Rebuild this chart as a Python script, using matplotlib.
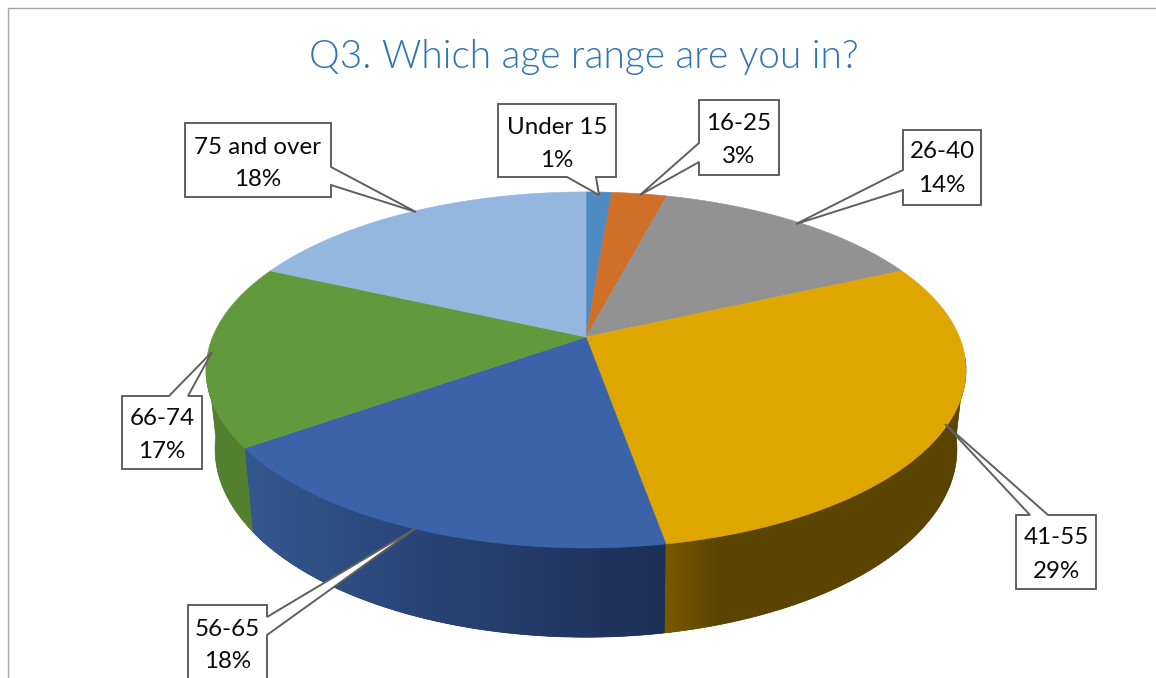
import numpy as np
import matplotlib
matplotlib.use("Agg")
import matplotlib.pyplot as plt
from matplotlib.colors import LinearSegmentedColormap, Normalize
from matplotlib.patches import Polygon

# Data
categorias = ["Under 15", "16-25", "26-40", "41-55", "56-65", "66-74", "75 and over"]
valores = [1.3, 2.8, 14.1, 29.0, 18.0, 16.6, 18.2]
rotulos = ["1%", "3%", "14%", "29%", "18%", "17%", "18%"]
titulo = "Q3. Which age range are you in?"

cores_topo = ["#4D8BC2", "#D06F27", "#929292", "#E0A600", "#3A63AA", "#62993D", "#95B6DE"]
# side shading, by x pixel: slice -> (x stops, colours)
cores_lado = {
    3: ([665, 715, 970], ["#7A5A00", "#5C4500", "#5A4400"]),
    4: ([245, 420, 665], ["#34588F", "#2A4478", "#1C2F55"]),
    5: ([200, 260], ["#54812F", "#54812F"]),
}

# box x0, x1, y0, y1, side of pointer, pointer base a, b, tip x, y
caixas = [
    (498, 616, 104, 177, "bottom", 567, 596, 599, 195),
    (699, 779, 100, 175, "left", 143, 162, 640, 195),
    (903, 981, 130, 205, "left", 170, 190, 796, 224),
    (1016, 1096, 515, 589, "top", 1030, 1048, 945, 424),
    (188, 267, 605, 690, "right", 617, 635, 416, 528),
    (122, 202, 396, 469, "top", 169, 188, 212, 352),
    (185, 331, 123, 197, "right", 167, 185, 416, 212),
]
centros_y = [141.5, 137.5, 166, 552, 643, 432.5, 161]

plt.rcParams["font.family"] = ["Lato", "DejaVu Sans"]
fig = plt.figure(figsize=(11.56, 6.78), dpi=100)
ax = fig.add_axes([0, 0, 1, 1])

# frame of the slide
ax.plot([7.5, 7.5, 1156], [678, 7.5, 7.5], color="#A6A6A6", lw=1.0, zorder=1)

ax.text(584, 57, titulo, ha="center", va="center", color="#2E75B6",
        fontsize=28, fontweight=300)


# perspective: circle -> ellipse, the pie centre is not the ellipse centre
def projeta(theta, topo=True):
    u, v = np.sin(theta), np.cos(theta)
    w = 1 + 0.185 * v
    if topo:
        return 586 + 373.4 * u / w, 337 - 171.9 * v / w
    return 586 + 364.5 * u / w, 414.5 - 181.5 * v / w


limites = np.concatenate([[0], np.cumsum(valores)]) / np.sum(valores) * 2 * np.pi
# the wall only shows below the widest points of the rim
vis_ini, vis_fim = np.radians(97), np.radians(263)

# side first, the top goes over it
for i in cores_lado:
    ts = np.linspace(max(limites[i], vis_ini), min(limites[i + 1], vis_fim), 220)
    xt, yt = projeta(ts, True)
    xb, yb = projeta(ts, False)
    contorno = np.column_stack([np.concatenate([xt, xb[::-1]]), np.concatenate([yt, yb[::-1]])])
    xs, cs = cores_lado[i]
    ax.fill(contorno[:, 0], contorno[:, 1], color=cs[-1], lw=0.5, zorder=2)
    pos = [(x - xs[0]) / (xs[-1] - xs[0]) for x in xs]
    cmap = LinearSegmentedColormap.from_list("lado", list(zip(pos, cs)))
    grad = np.linspace(0, 1, 512).reshape(1, -1)
    im = ax.imshow(grad, extent=[xs[0], xs[-1], 678, 0], aspect="auto", cmap=cmap,
                   norm=Normalize(0, 1), zorder=2.1, interpolation="bilinear")
    im.set_clip_path(Polygon(contorno, transform=ax.transData))

ax.set_xlim(0, 1156)
ax.set_ylim(678, 0)
ax.axis("off")

# top
for i in range(len(valores)):
    ts = np.linspace(limites[i], limites[i + 1], 200)
    x, y = projeta(ts, True)
    x = np.concatenate([[586], x])
    y = np.concatenate([[337], y])
    ax.fill(x, y, color=cores_topo[i], lw=0.4, zorder=3)

# callouts
for i, c in enumerate(caixas):
    x0, x1, y0, y1, lado, a, b, tx, ty = c
    if lado == "bottom":
        pts = [(x0, y0), (x1, y0), (x1, y1), (b, y1), (tx, ty), (a, y1), (x0, y1)]
    elif lado == "left":
        pts = [(x0, y0), (x1, y0), (x1, y1), (x0, y1), (x0, b), (tx, ty), (x0, a)]
    elif lado == "top":
        pts = [(x0, y0), (a, y0), (tx, ty), (b, y0), (x1, y0), (x1, y1), (x0, y1)]
    else:
        pts = [(x0, y0), (x1, y0), (x1, a), (tx, ty), (x1, b), (x1, y1), (x0, y1)]
    ax.fill(*zip(*pts), facecolor="white", edgecolor="#5F5F5F", lw=1.4, joinstyle="miter", zorder=4)
    cx = (x0 + x1) / 2
    ax.text(cx, centros_y[i] - 14, categorias[i], ha="center", va="center", fontsize=17.4, color="#0A0A0A", zorder=5)
    ax.text(cx, centros_y[i] + 19, rotulos[i], ha="center", va="center", fontsize=17.4, color="#0A0A0A", zorder=5)

plt.savefig("out.png", dpi=100)
